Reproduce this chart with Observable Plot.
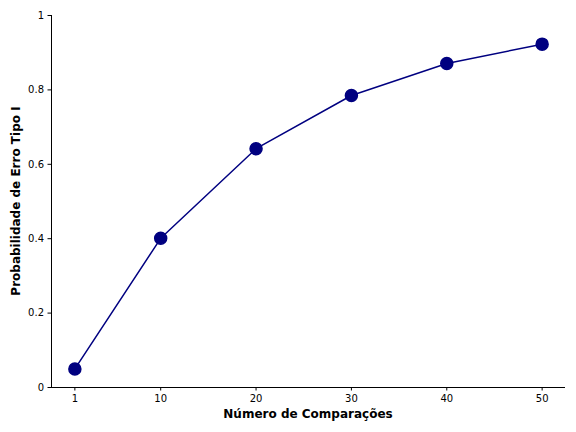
<!DOCTYPE html>
<html><head><meta charset="utf-8">
<script src="https://cdn.jsdelivr.net/npm/d3@7"></script>
<script src="https://cdn.jsdelivr.net/npm/@observablehq/plot@0.6"></script>
<style>
body{margin:0;background:#fff;}
svg{font-family:"DejaVu Sans",sans-serif;}
</style></head><body><div id="chart"></div>
<script>
const comparisons = [1, 10, 20, 30, 40, 50];
const probability = [0.05, 0.401, 0.642, 0.785, 0.871, 0.923];
const xTicks = [1, 10, 20, 30, 40, 50];
const yTicks = [0, 0.2, 0.4, 0.6, 0.8, 1];
const data = comparisons.map((n, i) => ({n, p: probability[i]}));
const fmt = d => d === 0 ? "0" : d === 1 ? "1" : String(d);
const plot = Plot.plot({
  width: 576, height: 432,
  marginLeft: 51, marginRight: 11, marginTop: 15, marginBottom: 45,
  style: {fontFamily: "DejaVu Sans, sans-serif", fontSize: "10px", background: "#fff", color: "#000"},
  x: {domain: [-1.45, 52.45], ticks: xTicks, tickFormat: d => String(d), tickSize: 3.5, label: null},
  y: {domain: [0, 1], ticks: yTicks, tickFormat: fmt, tickSize: 3.5, label: null},
  marks: [
    Plot.ruleY([0], {stroke: "#000", strokeWidth: 1}),
    Plot.ruleX([-1.45], {stroke: "#000", strokeWidth: 1}),
    Plot.axisX({ticks: xTicks, tickFormat: d => String(d), tickSize: 3.5, tickPadding: 4, fontSize: 10, label: null}),
    Plot.axisY({ticks: yTicks, tickFormat: fmt, tickSize: 3.5, tickPadding: 4, fontSize: 10, label: null}),
    Plot.line(data, {x: "n", y: "p", stroke: "#000080", strokeWidth: 1.5}),
    Plot.dot(data, {x: "n", y: "p", r: 6, fill: "#000080", stroke: "#000080"})
  ]
});
const svg = d3.select(plot);
svg.append("text").attr("x", (51 + 565) / 2).attr("y", 418).attr("text-anchor", "middle")
  .attr("font-weight", "bold").attr("font-size", "12px").attr("fill", "#000").text("Número de Comparações");
svg.append("text").attr("transform", "translate(20," + ((15 + 387) / 2) + ") rotate(-90)").attr("text-anchor", "middle")
  .attr("font-weight", "bold").attr("font-size", "12px").attr("fill", "#000").text("Probabilidade de Erro Tipo I");
document.getElementById("chart").appendChild(plot);
</script></body></html>
